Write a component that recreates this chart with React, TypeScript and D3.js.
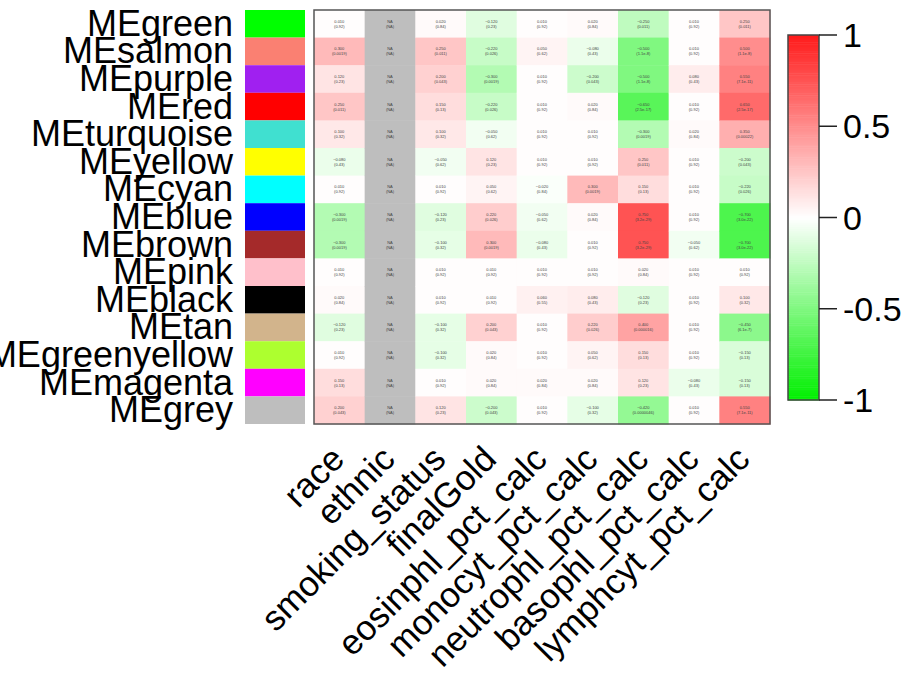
import React from 'react'
import * as d3 from 'd3'

const modules = ['MEgreen', 'MEsalmon', 'MEpurple', 'MEred', 'MEturquoise', 'MEyellow', 'MEcyan', 'MEblue',
  'MEbrown', 'MEpink', 'MEblack', 'MEtan', 'MEgreenyellow', 'MEmagenta', 'MEgrey']
const moduleColors = ['#00ff00', '#fa8072', '#a020f0', '#ff0000', '#40e0d0', '#ffff00', '#00ffff', '#0000ff',
  '#a52a2a', '#ffc0cb', '#000000', '#d2b48c', '#adff2f', '#ff00ff', '#bebebe']
const traits = ['race', 'ethnic', 'smoking_status', 'finalGold', 'eosinphl_pct_calc', 'monocyt_pct_calc',
  'neutrophl_pct_calc', 'basophl_pct_calc', 'lymphcyt_pct_calc']

// correlations per trait, one entry per module (null = NA)
const race = [0.01, 0.3, 0.12, 0.25, 0.1, -0.08, 0.01, -0.3, -0.3, 0.01, 0.02, -0.12, 0.01, 0.15, 0.2]
const ethnic = [null, null, null, null, null, null, null, null, null, null, null, null, null, null, null]
const smoking = [0.02, 0.25, 0.2, 0.15, 0.1, -0.05, 0.01, -0.12, -0.1, 0.01, 0.01, -0.1, -0.1, 0.01, 0.12]
const finalGold = [-0.12, -0.22, -0.3, -0.22, -0.05, 0.12, 0.05, 0.22, 0.3, 0.01, 0.01, 0.2, 0.02, 0.02, -0.2]
const eosin = [0.01, 0.05, 0.01, 0.01, 0.01, 0.01, -0.02, -0.05, -0.08, 0.01, 0.06, 0.01, 0.01, 0.02, 0.01]
const mono = [0.02, -0.08, -0.2, 0.02, 0.01, 0.01, 0.3, 0.02, 0.01, 0.01, 0.08, 0.22, 0.05, 0.02, -0.1]
const neutro = [-0.25, -0.5, -0.5, -0.65, -0.3, 0.25, 0.15, 0.75, 0.75, 0.02, -0.12, 0.4, 0.15, 0.12, -0.42]
const baso = [0.01, 0.01, 0.08, 0.01, 0.02, 0.01, 0.01, 0.01, -0.05, 0.01, 0.01, 0.01, 0.01, -0.08, 0.01]
const lymph = [0.25, 0.5, 0.55, 0.65, 0.35, -0.2, -0.22, -0.7, -0.7, 0.01, 0.1, -0.45, -0.15, -0.15, 0.55]
const columns = [race, ethnic, smoking, finalGold, eosin, mono, neutro, baso, lymph]
const colorTicks = [1, 0.5, 0, -0.5, -1]
const nSamples = 100

const font = '"Liberation Sans", Arial, Helvetica, sans-serif'

function pValue(r: number) {
  const t = Math.abs(r) * Math.sqrt((nSamples - 2) / (1 - r * r))
  const z = t / Math.SQRT2
  const k = 1 / (1 + 0.3275911 * z)
  const erfc = k * (0.254829592 + k * (-0.284496736 + k * (1.421413741 + k * (-1.453152027 + k * 1.061405429)))) * Math.exp(-z * z)
  return erfc
}

export default function App() {
  const x = d3.scaleBand().domain(traits).range([314, 770])
  const y = d3.scaleBand().domain(modules).range([10, 424])
  const color = d3.scaleLinear<string>().domain([-1, 0, 1]).range(['#00f000', '#ffffff', '#ff1a1a'])
  const cb = d3.scaleLinear().domain([-1, 1]).range([400, 35])
  const strips = d3.range(-1, 1, 0.01)

  return (
    <svg width={912} height={673} style={{ position: 'absolute', left: 0, top: 0, background: '#fff' }}>
      {/* module labels and swatches */}
      {modules.map((m, i) => (
        <g key={m}>
          <rect x={245} y={y(m)!} width={60} height={y.bandwidth()} fill={moduleColors[i]} />
          <text x={233} y={y(m)! + y.bandwidth() / 2 + 12} textAnchor="end" fontFamily={font} fontSize={36}>{m}</text>
        </g>
      ))}

      {/* heatmap cells */}
      {traits.map((t, j) => modules.map((m, i) => {
        const v = columns[j][i]
        const cx = x(t)! + x.bandwidth() / 2
        const cy = y(m)! + y.bandwidth() / 2
        return (
          <g key={t + m}>
            <rect x={x(t)!} y={y(m)!} width={x.bandwidth() + 0.5} height={y.bandwidth() + 0.5}
              fill={v === null ? '#bebebe' : color(v)} />
            <text x={cx} y={cy - 1} textAnchor="middle" fontFamily={font} fontSize={4} fill="#444">
              {v === null ? 'NA' : d3.format('.3f')(v)}
            </text>
            <text x={cx} y={cy + 4} textAnchor="middle" fontFamily={font} fontSize={4} fill="#444">
              {v === null ? '(NA)' : `(${d3.format('.2g')(pValue(v))})`}
            </text>
          </g>
        )
      }))}
      <rect x={314} y={10} width={456} height={414} fill="none" stroke="#555" strokeWidth={1.5} />

      {/* trait labels */}
      {traits.map(t => {
        const ax = x(t)! + x.bandwidth() / 2 + 7
        const ay = 461
        return (
          <text key={t} x={ax} y={ay} textAnchor="end" fontFamily={font} fontSize={35}
            transform={`rotate(-45, ${ax}, ${ay})`}>{t}</text>
        )
      })}

      {/* color bar */}
      {strips.map(s => (
        <rect key={s} x={788} y={cb(s + 0.01)} width={31} height={cb(s) - cb(s + 0.01) + 0.5} fill={color(s + 0.005)} />
      ))}
      <rect x={788} y={35} width={31} height={365} fill="none" stroke="#444" strokeWidth={1.5} />
      {colorTicks.map(v => (
        <g key={v}>
          <line x1={819} x2={837} y1={cb(v)} y2={cb(v)} stroke="#222" strokeWidth={1.5} />
          <text x={843} y={cb(v) + 12} fontFamily={font} fontSize={34}>{v}</text>
        </g>
      ))}
    </svg>
  )
}
